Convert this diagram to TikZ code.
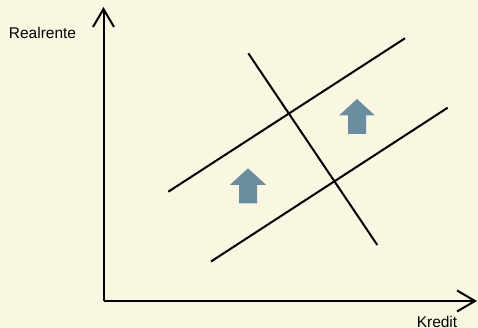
\documentclass[tikz,border=0pt]{standalone}
\usepackage{fontspec}
\setmainfont{Liberation Sans}
\usetikzlibrary{arrows.meta}
\definecolor{paper}{HTML}{F9F7E1}
\definecolor{shiftblue}{HTML}{6A8E9F}
\tikzstyle{axis} = [line width=2pt,-{Straight Barb[length=18pt,width=21pt,line width=2pt]}]
\tikzstyle{curve} = [line width=2pt]
\tikzstyle{shiftarrow} = [fill=shiftblue]
\tikzstyle{lbl} = [font=\fontsize{15.5}{18}\selectfont, inner sep=0pt]

\begin{document}
\begin{tikzpicture}[x=1pt,y=-1pt]
\fill[paper] (0,0) rectangle (478,328);
\useasboundingbox (0,0) rectangle (478,328);
% axes
\coordinate (origin) at (103.5,301);
\coordinate (ytop) at (103.5,7);
\coordinate (xend) at (477,301);
\draw [axis] (origin) -- (ytop);
\draw [axis] (origin) -- (xend);
\node (ylabel) [lbl] at (42.5,33) {Realrente};
\node (xlabel) [lbl] at (437,322) {Kredit};
% lines
\coordinate (a1) at (168.3,191.7);
\coordinate (a2) at (405,38.3);
\coordinate (b1) at (211,261.5);
\coordinate (b2) at (447.7,107.7);
\coordinate (c1) at (248.3,53.3);
\coordinate (c2) at (377.3,245);
\draw [curve] (a1) -- (a2);
\draw [curve] (b1) -- (b2);
\draw [curve] (c1) -- (c2);
% shift arrows
\foreach \x/\y in {248/168.3, 357/99} {
  \fill [shiftarrow] (\x,\y) -- ++(18,16.5) -- ++(-9,0) -- ++(0,18.5)
    -- ++(-18,0) -- ++(0,-18.5) -- ++(-9,0) -- cycle;
}
\end{tikzpicture}
\end{document}
